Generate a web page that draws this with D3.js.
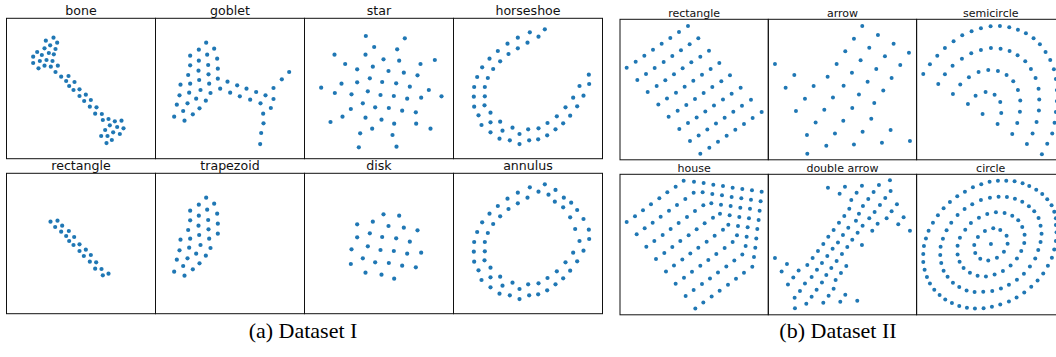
<!DOCTYPE html>
<html>
<head>
<meta charset="utf-8">
<script src="https://cdn.jsdelivr.net/npm/d3@7"></script>
<style>
  html, body { margin: 0; padding: 0; background: #fff; }
  svg { display: block; }
</style>
</head>
<body>
<svg id="fig" width="1056" height="357"></svg>
<script>
// ---- Dataset I shapes (x right, y down, arbitrary units) ----
const bone = [[161,113],[138,122],[172,128],[151,136],[134,145],[167,147],[112,156],[147,159],[126,165],[162,163],
  [100,170],[140,180],[120,183],[158,183],[100,189],[134,197],[153,200],[174,197],[116,205],
  [167,216],[206,228],[184,230],[199,243],[224,246],[208,258],[239,268],[221,270],[258,284],[239,288],[273,300],
  [253,303],[290,322],[270,320],[306,342],[286,341],
  [309,360],[326,357],[345,364],[365,362],[330,376],[352,381],[316,390],[371,385],[340,397],[360,402],[304,408],
  [323,408],[336,420],[320,429]];

const goblet = [[169,128],[147,149],[193,146],[121,167],[172,164],[147,182],[202,176],[121,196],[175,195],[204,206],
  [146,212],[115,225],[176,223],[204,236],[148,240],[92,254],[121,251],[178,251],[233,245],[262,256],[152,270],
  [211,266],[118,278],[290,266],[319,276],[89,286],[182,279],[241,278],[371,264],[396,238],[418,216],[139,296],
  [270,289],[347,286],[168,302],[301,299],[371,297],[81,314],[113,310],[332,310],[149,325],[100,333],[363,324],
  [129,343],[73,350],[340,341],[104,362],[341,370],[334,399],[331,432]];

const star = [[197,108],[314,115],[222,141],[291,148],[103,164],[196,164],[250,178],[297,182],[404,180],[135,192],
  [361,192],[218,200],[171,208],[265,213],[311,218],[352,226],[209,235],[124,251],[171,247],[246,246],[288,250],
  [63,263],[329,260],[386,270],[104,279],[203,274],[154,283],[241,285],[281,288],[321,296],[363,293],[424,289],
  [188,310],[225,322],[266,324],[152,327],[306,332],[347,337],[127,350],[196,353],[244,359],[91,366],[282,371],
  [348,371],[216,386],[391,386],[180,400],[277,405],[176,442],[289,440]];

const horseshoe = [[290,88],[245,97],[209,113],[178,131],[149,153],[124,176],[102,202],[87,231],[78,261],[77,290],
  [78,320],[91,346],[100,375],[127,397],[154,416],[185,421],[214,432],[243,421],[270,418],[297,406],[322,388],
  [345,370],[366,347],[387,319],[406,287],[423,252],[422,224],
  [271,110],[238,128],[209,145],[181,162],[156,184],[135,207],[119,234],[110,261],[110,289],[109,316],[127,338],
  [127,367],[156,365],[163,392],[193,383],[214,402],[240,388],[271,385],[298,369],[326,349],[352,322],[375,293],
  [394,258]];

const rectangleI = [[152,200],[173,197],[166,216],[187,212],[184,230],[207,228],[199,243],[223,246],[208,258],
  [239,268],[221,270],[258,284],[239,288],[273,300],[252,303],[289,322],[270,320],[305,342],[286,341],[326,356],
  [309,361]];

const trapezoid = [[169,128],[147,149],[193,146],[121,167],[172,164],[147,182],[202,176],[121,196],[175,195],
  [204,206],[146,212],[115,225],[176,223],[204,236],[148,240],[92,254],[121,251],[178,251],[152,270],[118,278],
  [89,286],[182,279],[139,296],[168,302],[81,314],[113,310],[149,325],[100,333],[129,343],[73,350],[104,362]];

const disk = [[250,178],[297,182],[218,200],[171,208],[265,213],[311,218],[352,226],[209,235],[171,247],[246,246],
  [288,250],[329,260],[203,274],[154,283],[241,285],[281,288],[321,296],[363,293],[188,310],[225,322],[266,324],
  [152,327],[306,332],[347,337],[196,353],[244,359],[282,371]];

const annulus = [[290,88],[245,97],[209,113],[178,131],[149,153],[124,176],[102,202],[87,231],[78,261],[77,290],
  [78,320],[91,346],[100,375],[127,397],[154,416],[185,421],[214,432],[243,421],[270,418],[297,406],[322,388],
  [345,370],[366,347],[387,319],[406,287],[423,252],[422,224],[406,192],[387,165],[369,143],[347,128],[322,105],
  [271,110],[238,128],[209,145],[181,162],[156,184],[135,207],[119,234],[110,261],[110,289],[109,316],[127,338],
  [127,367],[156,365],[163,392],[193,383],[214,402],[240,388],[271,385],[298,369],[326,349],[352,322],[375,293],
  [394,258],[381,222],[366,187],[345,157],[320,140],[301,119]];

// ---- Dataset II shapes ----
const rectangleII = [[35,203],[62,185],[88,167],[114,149],[140,131],[166,114],[192,96],[219,78],
  [67,240],[93,222],[119,204],[146,186],[172,168],[198,151],[224,133],[250,115],
  [98,276],[125,258],[151,241],[177,223],[203,205],[229,187],[256,170],[282,152],
  [130,313],[156,295],[183,278],[209,260],[235,242],[261,224],[287,207],[313,189],
  [161,350],[188,332],[214,315],[240,297],[266,279],[292,261],[319,244],[345,226],
  [193,387],[219,369],[245,352],[271,334],[297,316],[324,298],[350,281],[377,263],
  [225,423],[251,406],[277,388],[303,370],[329,353],[355,335],[381,317],[408,299],
  [256,461],[283,443],[309,425],[335,407],[361,389],[387,372],[413,354],[440,336]];

const arrow = [[742,78],[789,105],[717,116],[836,131],[763,143],[882,158],[691,154],[810,169],[737,181],[856,195],
  [480,192],[665,192],[784,207],[538,225],[711,218],[638,230],[830,234],[758,245],[512,263],[596,258],[686,257],
  [805,271],[732,283],[570,296],[654,292],[778,309],[543,333],[628,329],[712,324],[769,356],[602,367],[685,362],
  [827,390],[743,395],[576,405],[660,400],[885,423],[801,428],[717,433],[634,437],[577,461]];

const semicircle = [[40,222],[60,193],[82,167],[105,144],[131,124],[157,106],[185,94],[213,85],[242,79],[270,78],
  [298,82],[324,89],[348,100],[371,115],[390,133],[407,156],[421,180],[432,208],[438,237],[441,270],[441,303],
  [438,336],[434,368],[427,400],[412,431],[396,462],
  [85,252],[105,223],[128,197],[156,176],[184,160],[213,150],[243,144],[272,146],[299,153],[323,166],[346,184],
  [363,207],[377,234],[386,266],[388,298],[387,331],[380,366],[368,400],[351,432],
  [129,282],[151,253],[177,232],[206,216],[235,210],[264,213],[290,225],[310,244],[324,270],[331,301],[330,335],
  [322,369],[307,402],
  [174,312],[197,287],[227,276],[254,284],[271,306],[274,339],[263,372],
  [218,342]];

const house = [[206,77],[237,80],[266,84],[295,89],[324,93],[353,98],[382,102],[411,106],[440,110],
  [182,95],[157,112],[133,130],[108,148],[84,166],[60,184],[35,201],
  [236,113],[263,112],[292,117],[321,121],[350,126],[379,130],[408,134],[437,139],
  [211,132],[186,150],[162,167],[137,185],[113,203],[89,220],[65,238],
  [265,151],[289,145],[318,149],[347,153],[376,158],[405,161],[434,167],
  [240,168],[216,186],[191,204],[167,222],[143,240],[118,258],[94,275],
  [315,176],[344,181],[373,186],[402,190],[431,195],[294,188],[269,205],[245,223],[221,241],[196,258],[172,276],
  [148,294],[123,312],
  [340,209],[369,213],[398,217],[427,222],[324,224],[299,242],[275,260],[250,278],[226,295],[202,313],[177,331],
  [153,349],
  [366,241],[395,245],[424,250],[353,261],[329,279],[304,297],[280,315],[256,332],[231,350],[207,368],[182,386],
  [392,273],[421,278],[382,298],[358,316],[334,334],[309,352],[285,370],[261,387],[236,405],[212,423],
  [417,306],[412,335],[387,353],[363,371],[339,389],[314,407],[290,424],[265,442],[241,460]];

const doubleArrow = [[639,98],[690,95],[741,92],[792,90],[825,76],[827,108],[674,116],[725,113],[776,111],[709,135],
  [760,132],[811,129],[846,148],[703,161],[744,153],[795,150],[830,169],[866,187],[850,208],[885,227],[688,183],
  [732,176],[779,171],[815,190],[672,203],[723,197],[763,190],[788,206],[656,225],[700,218],[743,212],[772,227],
  [640,245],[684,240],[728,233],[625,267],[669,262],[712,254],[741,270],[609,288],[653,281],[697,276],[593,309],
  [637,303],[681,297],[577,330],[621,324],[665,318],[694,333],[480,309],[516,327],[500,349],[551,346],[535,367],
  [606,344],[590,366],[649,339],[634,360],[678,354],[662,375],[519,388],[570,385],[621,382],[555,408],[605,404],
  [656,401],[539,428],[590,425],[641,422],[691,419],[540,459],[574,446],[625,443],[676,440],[727,437]];

const circle = [[264,77],[239,80],[214,88],[189,97],[165,110],[142,124],[120,141],[101,160],[84,181],[69,203],
  [56,227],[48,250],[42,273],[40,297],[40,321],[44,344],[51,366],[60,385],[73,404],[89,420],[106,433],[126,444],
  [148,453],[171,458],[195,460],[221,459],[246,455],[271,448],[297,439],[320,427],[343,412],[364,395],[383,376],
  [400,355],[414,332],[426,308],[433,283],[438,258],[440,232],[438,210],[289,77],[314,79],[338,85],[358,93],
  [379,104],[397,117],[412,133],[425,151],[433,170],[438,190],
  [266,125],[240,128],[213,135],[187,148],[164,162],[143,180],[124,203],[110,226],[99,251],[92,275],[91,300],
  [94,324],[101,347],[113,365],[129,383],[148,396],[170,406],[194,411],[220,410],[247,408],[273,400],[297,389],
  [321,374],[342,356],[360,334],[376,310],[385,285],[392,261],[395,236],[392,212],[386,189],[373,169],[357,154],
  [337,140],[315,131],[291,126],
  [258,172],[232,177],[207,188],[183,204],[166,224],[150,248],[143,272],[143,298],[149,320],[161,339],[180,353],
  [203,362],[228,364],[254,358],[279,348],[302,331],[321,310],[334,288],[343,264],[344,239],[337,216],[325,196],
  [307,182],[284,174],
  [250,220],[225,228],[204,246],[193,270],[196,294],[211,311],[235,316],[261,308],[282,290],[293,266],[290,242],
  [271,225],
  [243,267]];

// Titles and captions
const titlesI = ["bone", "goblet", "star", "horseshoe", "rectangle", "trapezoid", "disk", "annulus"];
const titlesII = ["rectangle", "arrow", "semicircle", "house", "double arrow", "circle"];
const captions = ["(a) Dataset I", "(b) Dataset II"];

// Axis limits for each subplot (same units as the points; y grows downward)
const limsI = [[20, 55], [17, 55], [13, 55], [16, 55], [20, 55], [17, 55], [13, 55], [16, 55]];
const limsII = [[15, 58], [460, 58], [20, 58], [15, 58], [460, 58], [20, 58]];

const shapesI = [bone, goblet, star, horseshoe, rectangleI, trapezoid, disk, annulus];
const shapesII = [rectangleII, arrow, semicircle, house, doubleArrow, circle];

const svg = d3.select("#fig");
const dotColor = "#1f77b4";

function drawGrid(cfg) {
  const { shapes, titles, lims, left, tops, w, h, cols, spanX, spanY, fontSize, titleGap, r } = cfg;
  shapes.forEach((pts, i) => {
    const col = i % cols, row = Math.floor(i / cols);
    const x0 = left + col * w, y0 = tops[row];
    const [lx, ly] = lims[i];
    const sx = d3.scaleLinear().domain([lx, lx + spanX]).range([x0, x0 + w]);
    const sy = d3.scaleLinear().domain([ly, ly + spanY]).range([y0, y0 + h]);
    const g = svg.append("g");
    g.append("rect")
      .attr("x", x0).attr("y", y0).attr("width", w).attr("height", h)
      .attr("fill", "none").attr("stroke", "#111").attr("stroke-width", 1);
    g.selectAll("circle").data(pts).join("circle")
      .attr("cx", d => sx(d[0])).attr("cy", d => sy(d[1]))
      .attr("r", r).attr("fill", dotColor);
    g.append("text")
      .attr("x", x0 + w / 2).attr("y", y0 - titleGap)
      .attr("text-anchor", "middle")
      .attr("font-family", "DejaVu Sans, sans-serif")
      .attr("font-size", fontSize).attr("fill", "#111")
      .text(titles[i]);
  });
}

drawGrid({ shapes: shapesI, titles: titlesI, lims: limsI, left: 6.5, tops: [18.3, 173.3], w: 149, h: 140.4,
  cols: 4, spanX: 447, spanY: 421, fontSize: 12.6, titleGap: 3, r: 2.1 });
drawGrid({ shapes: shapesII, titles: titlesII, lims: limsII, left: 620, tops: [19.3, 174.3], w: 148.3, h: 140.5,
  cols: 3, spanX: 445, spanY: 421, fontSize: 11, titleGap: 2.7, r: 2 });

svg.selectAll("text.caption").data(captions).join("text")
  .attr("class", "caption")
  .attr("x", (d, i) => [303, 838][i]).attr("y", 338)
  .attr("text-anchor", "middle")
  .attr("font-family", "Liberation Serif, Times New Roman, serif")
  .attr("font-size", 22).attr("fill", "#000")
  .text(d => d);
</script>
</body>
</html>
